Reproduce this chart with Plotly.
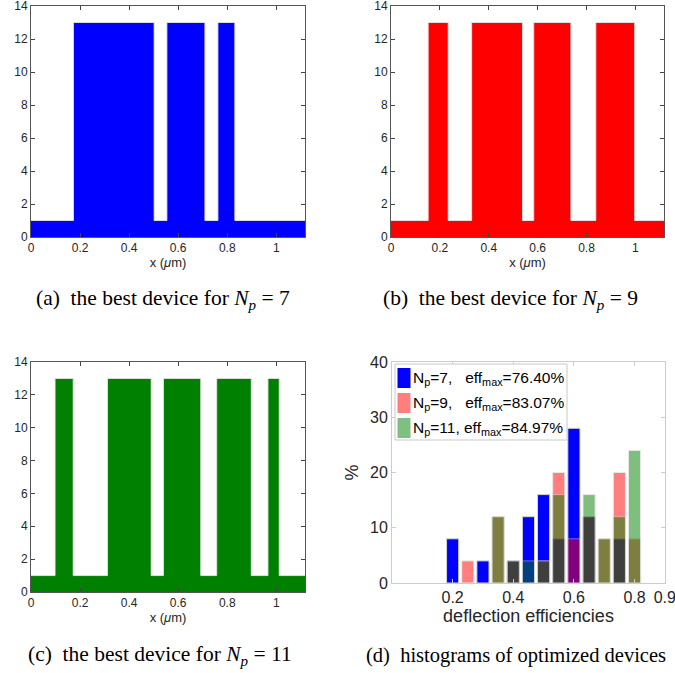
import plotly.graph_objects as go

# ---- device profiles (x boundaries in µm, segment heights) ----
period = 1.117
edges_a = [0, 0.173, 0.502, 0.554, 0.709, 0.762, 0.831, period]
heights_a = [1, 13, 1, 13, 1, 13, 1]
edges_b = [0, 0.152, 0.234, 0.330, 0.538, 0.584, 0.736, 0.838, 0.997, period]
heights_b = [1, 13, 1, 13, 1, 13, 1, 13, 1]
edges_c = [0, 0.098, 0.172, 0.312, 0.490, 0.540, 0.692, 0.757, 0.898, 0.966, 1.012, period]
heights_c = [1, 13, 1, 13, 1, 13, 1, 13, 1, 13, 1]

# ---- histograms (bin centers, % of devices) ----
bins = [0.20, 0.25, 0.30, 0.35, 0.40, 0.45, 0.50, 0.55, 0.60, 0.65, 0.70, 0.75, 0.80]
hist_np7 = [8, 0, 4, 0, 4, 12, 16, 8, 28, 12, 0, 8, 0]
hist_np9 = [0, 4, 0, 12, 4, 0, 4, 20, 8, 12, 8, 20, 8]
hist_np11 = [0, 0, 0, 12, 4, 4, 4, 16, 0, 16, 8, 12, 24]
legend_names = ["N<sub>p</sub>=7,\u00a0\u00a0 eff<sub>max</sub>=76.40%",
                "N<sub>p</sub>=9,\u00a0\u00a0 eff<sub>max</sub>=83.07%",
                "N<sub>p</sub>=11, eff<sub>max</sub>=84.97%"]
captions = ["(a)\u00a0 the best device for <i>N<sub>p</sub></i>\u00a0=\u00a07",
            "(b)\u00a0 the best device for <i>N<sub>p</sub></i>\u00a0=\u00a09",
            "(c)\u00a0 the best device for <i>N<sub>p</sub></i>\u00a0=\u00a011",
            "(d)\u00a0 histograms of optimized devices"]

W, H = 675, 673
def px(x0, x1):
    return [x0 / W, x1 / W]
def py(top, bottom):
    return [1 - bottom / H, 1 - top / H]

fig = go.Figure()
SANS = "Liberation Sans, Arial, sans-serif"
SERIF = "Liberation Serif, Times New Roman, serif"

devs = [(edges_a, heights_a, "rgb(0,0,255)", "x", "y"),
        (edges_b, heights_b, "rgb(255,0,0)", "x2", "y2"),
        (edges_c, heights_c, "rgb(0,128,0)", "x3", "y3")]
for e, h, col, xa, ya in devs:
    fig.add_trace(go.Scatter(x=e, y=list(h) + [h[-1]], mode="lines", line_shape="hv",
                             fill="tozeroy", fillcolor=col,
                             line=dict(color="rgba(230,230,230,0.9)", width=1),
                             xaxis=xa, yaxis=ya, showlegend=False, hoverinfo="skip"))

hist_sets = [(hist_np7, "rgb(0,0,255)", 1.0, legend_names[0]),
             (hist_np9, "rgb(255,0,0)", 0.5, legend_names[1]),
             (hist_np11, "rgb(0,128,0)", 0.5, legend_names[2])]
for vals, col, op, name in hist_sets:
    xs = [b for b, v in zip(bins, vals) if v > 0]
    ys = [v for v in vals if v > 0]
    fig.add_trace(go.Bar(x=xs, y=ys, width=0.04, name=name, opacity=op, showlegend=False,
                         marker=dict(color=col, line=dict(color="rgba(210,210,210,1)", width=1)),
                         xaxis="x4", yaxis="y4"))

# hand-placed legend box (matches the compact MATLAB legend)
lx0, ly0, lx1, ly1 = 395, 364, 567, 440
fig.add_shape(type="rect", xref="paper", yref="paper",
              x0=lx0 / W, x1=lx1 / W, y0=1 - ly1 / H, y1=1 - ly0 / H,
              fillcolor="white", line=dict(color="#c8c8c8", width=1), layer="above")
for i, (vals, col, op, name) in enumerate(hist_sets):
    top = ly0 + 4 + i * 25
    fig.add_shape(type="rect", xref="paper", yref="paper",
                  x0=397.5 / W, x1=410.5 / W, y0=1 - (top + 20) / H, y1=1 - top / H,
                  fillcolor=col, opacity=op, line=dict(width=0), layer="above")
    fig.add_annotation(x=411 / W, y=1 - (top + 10) / H, xref="paper", yref="paper",
                       text=name, showarrow=False, xanchor="left", yanchor="middle",
                       font=dict(family=SANS, size=15.5, color="black"))

dev_ax = dict(showline=True, linecolor="#555555", linewidth=1, mirror="ticks",
              ticks="inside", ticklen=4, tickcolor="#444444", showgrid=False, zeroline=False,
              automargin=False, ticklabeloverflow="allow",
              tickfont=dict(family=SANS, size=12, color="#262626"))
xdev = dict(dev_ax, range=[0, period], tickvals=[0, 0.2, 0.4, 0.6, 0.8, 1],
            ticktext=["0", "0.2", "0.4", "0.6", "0.8", "1"],
            title=dict(text="x (<i>\u03bc</i>m)", font=dict(family=SANS, size=13, color="#262626"), standoff=2))
ydev = dict(dev_ax, range=[0, 14.0001], tickvals=[0, 2, 4, 6, 8, 10, 12, 14])

hist_ax = dict(showline=True, linecolor="#cccccc", linewidth=1, mirror="ticks",
               ticks="inside", ticklen=4, tickcolor="#cccccc", showgrid=False, zeroline=False,
               automargin=False, ticklabeloverflow="allow",
               tickfont=dict(family=SANS, size=16, color="#262626"))

fig.update_layout(
    width=W, height=H, margin=dict(l=0, r=0, t=0, b=0),
    paper_bgcolor="white", plot_bgcolor="white", barmode="overlay",
    xaxis=dict(xdev, domain=px(31, 305), anchor="y"),
    yaxis=dict(ydev, domain=py(6, 237), anchor="x"),
    xaxis2=dict(xdev, domain=px(391, 664), anchor="y2"),
    yaxis2=dict(ydev, domain=py(6, 237), anchor="x2"),
    xaxis3=dict(xdev, domain=px(31, 305), anchor="y3"),
    yaxis3=dict(ydev, domain=py(362, 592), anchor="x3"),
    xaxis4=dict(hist_ax, domain=px(392, 665), anchor="y4", range=[0, 0.9005],
                tickvals=[0.2, 0.4, 0.6, 0.8, 0.9],
                title=dict(text="deflection efficiencies", font=dict(family=SANS, size=18, color="#262626"), standoff=4)),
    yaxis4=dict(hist_ax, domain=py(362, 583), anchor="x4", range=[0, 40],
                tickvals=[0, 10, 20, 30, 40],
                title=dict(text="%", font=dict(family=SANS, size=18, color="#262626"), standoff=6)),
    showlegend=False,
)

cap_pos = [(163, 299), (510, 299), (160, 655), (516, 655)]
cap_sizes = [21.5, 21.5, 21.5, 20.5]
for (cx, cy), txt, fs in zip(cap_pos, captions, cap_sizes):
    fig.add_annotation(x=cx / W, y=1 - cy / H, xref="paper", yref="paper", text=txt,
                       showarrow=False, xanchor="center", yanchor="middle",
                       font=dict(family=SERIF, size=fs, color="black"))

fig.write_html("out.html", config={"displayModeBar": False},
               post_script="document.body.style.margin='0px';")
